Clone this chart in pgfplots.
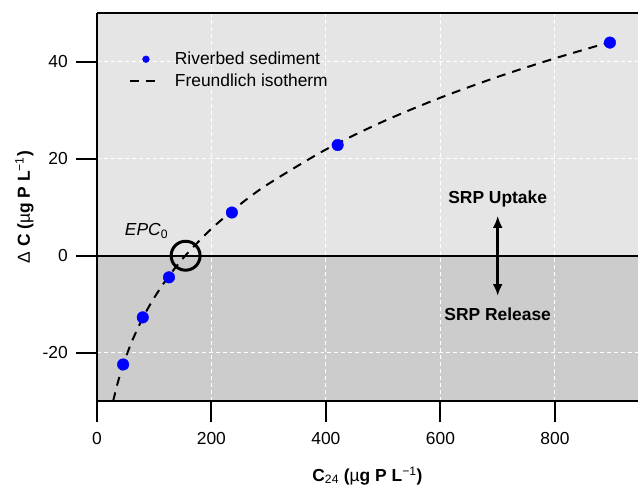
\documentclass[border=0pt]{standalone}
\usepackage{fontspec}
\setmainfont{Liberation Sans}
\usepackage{pgfplots}
\usepackage{pgfplotstable}
\pgfplotsset{compat=1.18}
\usetikzlibrary{arrows.meta}

\definecolor{upperbg}{RGB}{229,229,229}
\definecolor{lowerbg}{RGB}{204,204,204}

% measured points
\pgfplotstableread{
x y
45.9 -22.4
80.2 -12.7
126 -4.45
235.8 8.9
420.5 22.8
896 43.9
}\sediment

% fitted isotherm, read off the dashed line
\pgfplotstableread{
x y
28.5 -29.95
30 -29.17
35 -26.82
40 -24.72
45 -22.82
60 -17.99
80 -12.87
100 -8.69
125 -4.32
155 0.08
200 5.54
250 10.56
300 14.82
400 21.88
500 27.65
600 32.55
700 36.84
800 40.66
896 43.99
}\isotherm

\newcommand{\bigfont}{\fontsize{17.5}{21}\selectfont}

\begin{document}
\begin{tikzpicture}
\begin{axis}[
    set layers,
    scale only axis,
    width=542bp, height=389bp,
    xmin=0, xmax=945, ymin=-30, ymax=50,
    axis x line*=bottom, axis y line*=left,
    axis line style={line width=2bp, black},
    tick align=outside,
    major tick length=21bp,
    tick style={line width=2bp, black},
    xtick={0,200,400,600,800},
    xticklabels={0,200,400,600,800},
    ytick={-20,0,20,40},
    yticklabels={-20,0,20,40},
    ticklabel style={font=\bigfont},
    xticklabel style={inner sep=0pt, anchor=north, yshift=-10bp},
    yticklabel style={inner sep=0pt, anchor=east, xshift=-8bp},
    grid=major,
    grid style={white, line width=1bp, dash pattern=on 4bp off 3bp},
    xlabel={\bfseries C\textsubscript{\mdseries 24} ({\mdseries µ}g P L\textsuperscript{\mdseries −1})},
    ylabel={{\mdseries Δ} \bfseries C ({\mdseries µ}g P L\textsuperscript{\mdseries −1})},
    label style={font=\bigfont},
    xlabel style={at={(axis description cs:0.5,-0.2057)}, anchor=base},
    ylabel style={at={(axis description cs:-0.1236,0.5)}, anchor=base, rotate=0},
    legend style={at={(axis cs:55.8,41.97)}, anchor=north west, draw=none, fill=none,
        inner sep=0pt, font=\bigfont, row sep=8bp,
        nodes={inner sep=0pt},
        /tikz/every odd column/.append style={column sep=16bp}},
    legend cell align=left,
]
\begin{pgfonlayer}{axis background}
  \fill[upperbg] (axis cs:0,0) rectangle (axis cs:945,50);
  \fill[lowerbg] (axis cs:0,-30) rectangle (axis cs:945,0);
\end{pgfonlayer}

\addlegendimage{legend image code/.code={\draw[blue, mark=*, mark size=3.4bp, only marks] plot coordinates {(16bp,0bp)};}}
\addlegendentry{Riverbed sediment}
\addlegendimage{legend image code/.code={\draw[black, line width=2bp, dash pattern=on 9bp off 7bp] (0bp,0bp) -- (28bp,0bp);}}
\addlegendentry{Freundlich isotherm}

\draw[line width=2bp] (axis cs:0,0) -- (axis cs:945,0);
\draw[line width=2bp] (rel axis cs:0,1) -- (rel axis cs:1,1);

\addplot[black, line width=2bp, dash pattern=on 9bp off 7bp, smooth, forget plot] table[x=x, y=y] {\isotherm};
\addplot[only marks, mark=*, blue, mark size=5.8bp, forget plot] table[x=x, y=y] {\sediment};
\addplot[only marks, mark=o, black, mark size=14.5bp, line width=3bp, forget plot] coordinates {(155,0)};

\draw[line width=2.6bp, {Latex[length=12bp, width=10bp]}-{Latex[length=12bp, width=10bp]}] (axis cs:700,8.2) -- (axis cs:700,-8.3);
\node[font=\bigfont\bfseries, anchor=base] at (axis cs:700,10.83) {SRP Uptake};
\node[font=\bigfont\bfseries, anchor=base] at (axis cs:700,-13.36) {SRP Release};
\node[font=\bigfont\itshape, anchor=base west, inner sep=0pt] at (axis cs:48.8,4.11) {EPC\textsubscript{\upshape 0}};
\end{axis}
\path (-97bp,-86bp) rectangle (542bp,402bp);
\end{tikzpicture}
\end{document}
